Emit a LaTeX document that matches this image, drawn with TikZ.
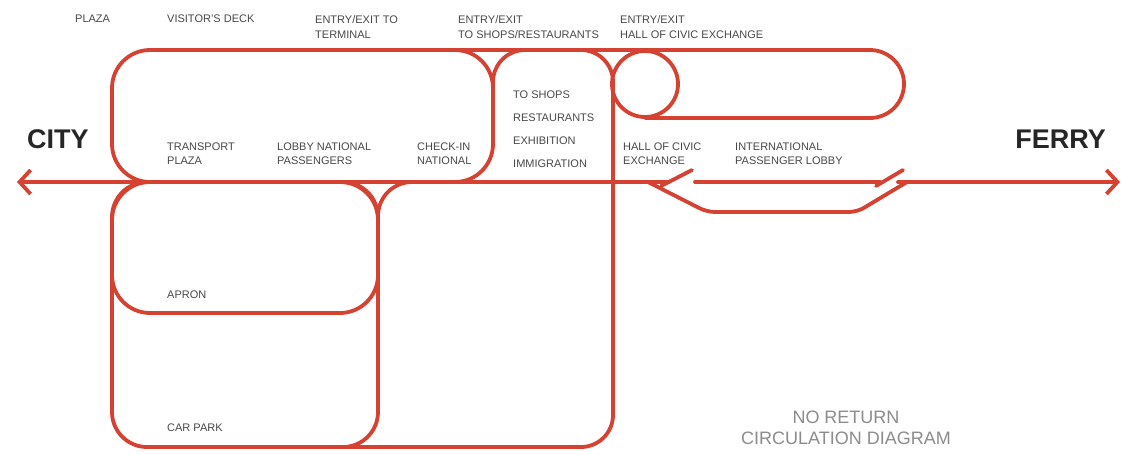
\documentclass[tikz,border=0pt]{standalone}
\usepackage{fontspec}
\setmainfont{Liberation Sans}
\usetikzlibrary{arrows.meta}
\definecolor{routered}{RGB}{214,66,50}
\definecolor{labelgray}{RGB}{72,72,72}
\tikzset{
  route/.style={draw=routered, line width=3.8pt, line join=round},
  lbl/.style={anchor=north west, inner sep=0pt, align=left, text=labelgray,
    font=\fontsize{11}{13.5}\selectfont},
  toplbl/.style={lbl, font=\fontsize{11}{15}\selectfont},
  endword/.style={anchor=base west, inner sep=0pt, text=black!85,
    font=\fontsize{27}{30}\selectfont\bfseries},
}
\begin{document}
\begin{tikzpicture}[x=1pt, y=-1pt, line cap=round]
\useasboundingbox (0,0) rectangle (1129,453);
% upper loops
\draw[route] (150,50) -- (870,50) arc[start angle=-90, end angle=90, radius=34] -- (645,118);
\draw[route, rounded corners=38] (112,50) rectangle (493,182);
\draw[route, rounded corners=32] (493,130) -- (493,50) -- (613,50) -- (613,447) -- (343,447);
\draw[route] (645,84) circle[radius=33];
% lower loops
\draw[route, rounded corners=38] (112,182) rectangle (378,313);
\draw[route, rounded corners=35] (112,182) rectangle (378,447);
\draw[route, rounded corners=34] (378,260) -- (378,182) -- (460,182);
% main axis city - ferry
\draw[route, {Straight Barb[length=11pt,width=24pt]}-] (17,182) -- (668,182);
\draw[route] (661,186) -- (692,170);
\draw[route, rounded corners=8] (648,182) -- (707,212) -- (857,212) -- (907,182);
\draw[route] (695,182) -- (880,182);
\draw[route] (876,186) -- (903,170);
\draw[route, -{Straight Barb[length=11pt,width=24pt]}] (898,182) -- (1120,182);
% end words
\node[endword] (city) at (27,148) {CITY};
\node[endword, anchor=base east] (ferry) at (1106,148) {FERRY};
% top row
\node[toplbl] (plaza) at (75,15) {PLAZA};
\node[toplbl] (deck) at (167,15) {VISITOR'S DECK};
\node[toplbl] (terminal) at (315,15) {ENTRY/EXIT TO\\TERMINAL};
\node[toplbl] (shopsexit) at (458,15) {ENTRY/EXIT\\TO SHOPS/RESTAURANTS};
\node[toplbl] (hallexit) at (620,15) {ENTRY/EXIT\\HALL OF CIVIC EXCHANGE};
% along the axis
\node[lbl] (transport) at (167,143) {TRANSPORT\\PLAZA};
\node[lbl] (lobby) at (277,143) {LOBBY NATIONAL\\PASSENGERS};
\node[lbl] (checkin) at (417,143) {CHECK-IN\\NATIONAL};
\node[lbl] (hall) at (623,143) {HALL OF CIVIC\\EXCHANGE};
\node[lbl] (intl) at (735,143) {INTERNATIONAL\\PASSENGER LOBBY};
\node[lbl, anchor=west] (shops) at (513,95) {TO SHOPS};
\node[lbl, anchor=west] (rest) at (513,118) {RESTAURANTS};
\node[lbl, anchor=west] (exhib) at (513,141) {EXHIBITION};
\node[lbl, anchor=west] (immig) at (513,164) {IMMIGRATION};
\node[lbl, anchor=west] (apron) at (167,295) {APRON};
\node[lbl, anchor=west] (carpark) at (167,428) {CAR PARK};
% caption
\node[anchor=north, inner sep=0pt, align=center, text=black!45,
  font=\fontsize{18}{21}\selectfont] (caption) at (846,411) {NO RETURN\\CIRCULATION DIAGRAM};
\end{tikzpicture}
\end{document}
